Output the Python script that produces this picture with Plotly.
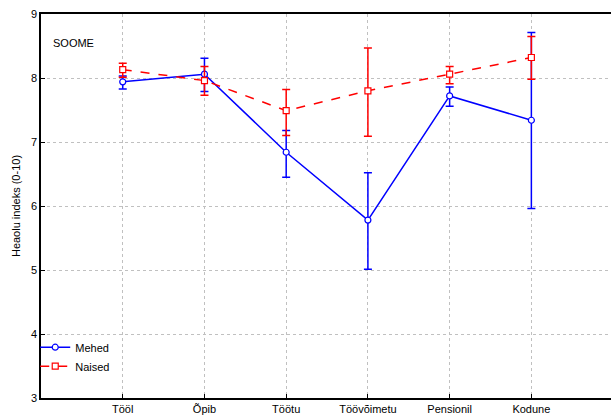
import plotly.graph_objects as go

categories = ['Tööl', 'Õpib', 'Töötu', 'Töövõimetu', 'Pensionil', 'Kodune']

mehed = [7.94, 8.06, 6.84, 5.78, 7.72, 7.34]
mehed_hi = [8.03, 8.31, 7.18, 6.52, 7.86, 8.71]
mehed_lo = [7.83, 7.79, 6.45, 5.01, 7.56, 5.96]

naised = [8.13, 7.96, 7.49, 7.80, 8.06, 8.32]
naised_hi = [8.23, 8.18, 7.82, 8.47, 8.18, 8.65]
naised_lo = [8.01, 7.73, 7.10, 7.09, 7.91, 7.98]

xpos = list(range(len(categories)))

fig = go.Figure()

fig.add_trace(go.Scatter(
    x=xpos, y=mehed, name='Mehed', mode='lines+markers',
    line=dict(color='#0000ff', width=1.5),
    marker=dict(symbol='circle', size=6, color='white', line=dict(color='#0000ff', width=1.2)),
    error_y=dict(type='data', symmetric=False,
                 array=[h - m for h, m in zip(mehed_hi, mehed)],
                 arrayminus=[m - l for m, l in zip(mehed, mehed_lo)],
                 color='#0000ff', thickness=1.5, width=4),
))

fig.add_trace(go.Scatter(
    x=xpos, y=naised, name='Naised', mode='lines+markers',
    line=dict(color='#ff0000', width=1.5, dash='dash'),
    marker=dict(symbol='square', size=6, color='white', line=dict(color='#ff0000', width=1.2)),
    error_y=dict(type='data', symmetric=False,
                 array=[h - m for h, m in zip(naised_hi, naised)],
                 arrayminus=[m - l for m, l in zip(naised, naised_lo)],
                 color='#ff0000', thickness=1.5, width=4),
))

fig.add_annotation(x=0.017, y=0.925, xref='paper', yref='paper', text='SOOME',
                   showarrow=False, xanchor='left', yanchor='middle',
                   font=dict(size=11, color='black'))

# plot runs past the right edge of the window, as in the original export
fig.update_layout(
    width=620, height=419,
    margin=dict(l=41, r=0, t=14, b=21),
    paper_bgcolor='white', plot_bgcolor='white',
    font=dict(family='Liberation Sans, Arial, sans-serif', size=11, color='black'),
    showlegend=True,
    legend=dict(x=-0.01, y=0.17, xanchor='left', yanchor='top',
                bgcolor='rgba(0,0,0,0)', font=dict(size=11),
                itemwidth=30, tracegroupgap=0),
    xaxis=dict(range=[-1, 6.06], tickvals=xpos, ticktext=categories,
               showgrid=True, gridcolor='#c0c0c0', griddash='dot', gridwidth=1,
               showline=True, linecolor='black', linewidth=1.5, mirror=True,
               ticks='inside', ticklen=4, tickcolor='black', zeroline=False),
    yaxis=dict(range=[3, 9], dtick=1, title=dict(text='Heaolu indeks (0-10)', font=dict(size=11), standoff=8),
               showgrid=True, gridcolor='#c0c0c0', griddash='dot', gridwidth=1,
               showline=True, linecolor='black', linewidth=1.5, mirror=True,
               ticks='inside', ticklen=4, tickcolor='black', zeroline=False),
)

fig.write_html("out.html", config={'displayModeBar': False},
               post_script="document.body.style.margin='0';document.body.style.overflow='hidden';")
